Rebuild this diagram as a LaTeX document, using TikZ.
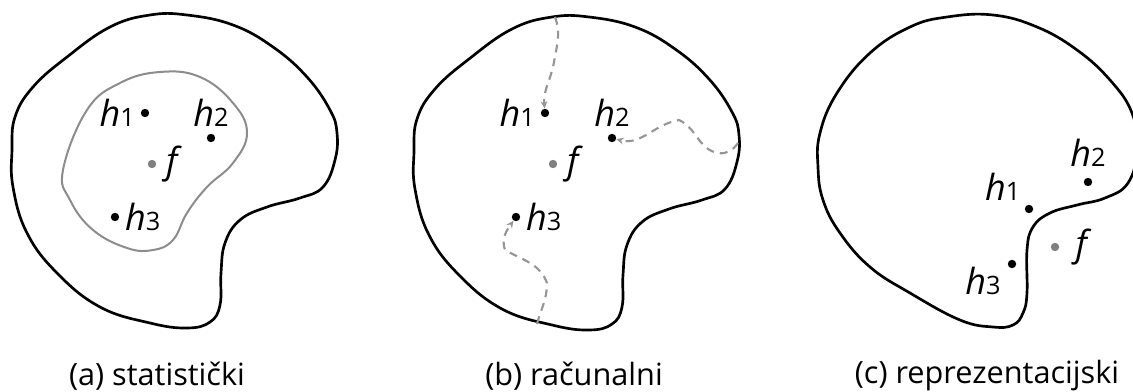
\documentclass[tikz,border=0pt]{standalone}
\usepackage{fontspec}
\setmainfont{Open Sans}
\definecolor{pathgray}{RGB}{150, 150, 150}
\definecolor{regiongray}{RGB}{140, 140, 140}
\definecolor{targetgray}{RGB}{128, 128, 128}
\usetikzlibrary{arrows.meta, positioning}
\tikzset{
	outline/.style={draw=black, line width=2pt},
	region/.style={draw=regiongray, line width=1.5pt},
	walk/.style={draw=pathgray, line width=1.6pt, dash pattern=on 6pt off 4.5pt, -{Stealth[length=5.5pt, width=5pt]}},
	hdot/.style={circle, fill=black, inner sep=0pt, minimum size=6.3pt},
	fdot/.style={circle, fill=targetgray, inner sep=0pt, minimum size=6.3pt},
	lab/.style={inner sep=0pt, font=\fontsize{27}{29}\selectfont\itshape},
	caption/.style={inner sep=0pt, font=\fontsize{23}{26}\selectfont},
}
\newcommand{\hlab}[1]{h{\fontsize{19}{19}\selectfont\upshape #1}}

\begin{document}
\begin{tikzpicture}[x=0.75pt, y=-0.75pt]
	\clip (0,0) rectangle (1133,392);
	% outer hypothesis spaces (a) and (b)
	\foreach \dx/\dy in {0/0, 402/2}
		\draw[outline, shift={(\dx,\dy)}] plot[smooth cycle, tension=0.7] coordinates {(12,150) (13,187) (27,233) (57,273) (100,307) (150,323) (187,328) (210,322) (220,305) (221,273) (225,243) (240,220) (267,207) (300,198) (323,187) (335,160) (337,133) (330,110) (307,77) (273,47) (233,25) (187,15) (150,15) (110,27) (67,57) (33,87) (15,117)};
	\draw[outline] plot[smooth cycle, tension=0.7] coordinates {(818,167) (820,133) (837,93) (870,53) (910,27) (947,17) (993,15) (1037,27) (1077,50) (1110,80) (1132,113) (1137,150) (1128,183) (1105,198) (1077,205) (1050,213) (1033,227) (1027,250) (1027,293) (1023,313) (1013,325) (993,327) (960,320) (910,293) (870,267) (840,233) (823,200)};

	% (a) statisticki
	\draw[region] plot[smooth cycle, tension=0.7] coordinates {(63,170) (70,200) (93,230) (127,248) (153,250) (173,240) (187,213) (207,187) (233,163) (247,133) (233,103) (200,77) (160,72) (120,83) (87,110)};
	\node[hdot] (a-h1) at (145,113) {};
	\node[hdot] (a-h2) at (211,138) {};
	\node[fdot] (a-f) at (152,164) {};
	\node[hdot] (a-h3) at (115,217) {};
	\node[lab, left=4pt of a-h1] (a-l1) {\hlab{1}};
	\node[lab, above=5pt of a-h2] (a-l2) {\hlab{2}};
	\node[lab, right=7pt of a-f] (a-lf) {f};
	\node[lab, right=4pt of a-h3] (a-l3) {\hlab{3}};
	\node[caption] (a-cap) at (157,376) {(a) statistički};

	% (b) racunalni
	\node[hdot] (b-h1) at (545,113) {};
	\node[hdot] (b-h2) at (612,138) {};
	\node[fdot] (b-f) at (553,164) {};
	\node[hdot] (b-h3) at (516,217) {};
	\node[lab, left=4pt of b-h1] (b-l1) {\hlab{1}};
	\node[lab, above=5pt of b-h2] (b-l2) {\hlab{2}};
	\node[lab, right=7pt of b-f] (b-lf) {f};
	\node[lab, right=4pt of b-h3] (b-l3) {\hlab{3}};
	\coordinate (b-s1) at (555,17);
	\coordinate (b-w1) at (554,62);
	\coordinate (b-s2) at (738,143);
	\coordinate (b-w2a) at (718,153);
	\coordinate (b-w2b) at (679,120);
	\coordinate (b-s3) at (537,324);
	\coordinate (b-w3a) at (547,283);
	\coordinate (b-w3b) at (505,250);
	\draw[walk] (b-s1) to[out=-70, in=80] (b-w1) to[out=-100, in=95] (b-h1);
	\draw[walk] (b-s2) to[out=-125, in=-10] (b-w2a) to[out=170, in=-25] (b-w2b) to[out=190, in=-15] (b-h2);
	\draw[walk] (b-s3) to[out=75, in=-90] (b-w3a) to[out=110, in=-30] (b-w3b) to[out=110, in=-125] (b-h3);
	\node[caption] (b-cap) at (574,376) {(b) računalni};

	% (c) reprezentacijski
	\node[hdot] (c-h1) at (1029,209) {};
	\node[hdot] (c-h2) at (1088,182) {};
	\node[fdot] (c-f) at (1055,247) {};
	\node[hdot] (c-h3) at (1012,264) {};
	\node[lab, above left=4pt and 4pt of c-h1] (c-l1) {\hlab{1}};
	\node[lab, above=8pt of c-h2] (c-l2) {\hlab{2}};
	\node[lab, right=12pt of c-f] (c-lf) {f};
	\node[lab, below left=0pt and 6pt of c-h3] (c-l3) {\hlab{3}};
	\node[caption] (c-cap) at (987,376) {(c) reprezentacijski};
\end{tikzpicture}
\end{document}
